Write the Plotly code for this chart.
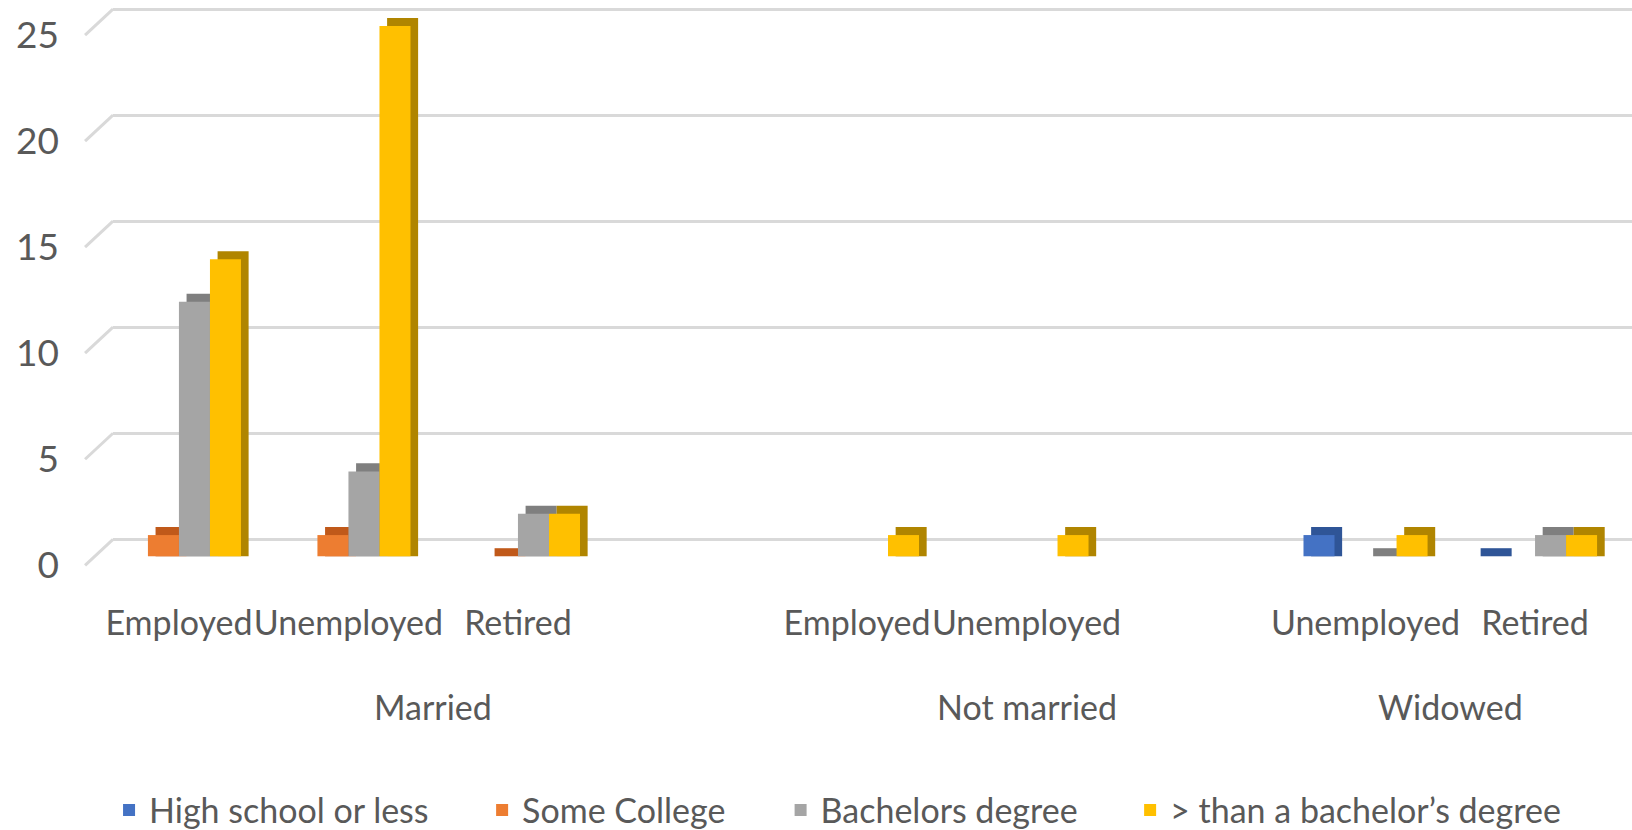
import plotly.graph_objects as go

# ---- data ----
groups = ["Married", "Not married", "Widowed"]
group_subcats = [
    ["Employed", "Unemployed", "Retired", ""],
    ["Employed", "Unemployed", ""],
    ["Unemployed", "Retired"],
]
series_names = ["High school or less", "Some College", "Bachelors degree",
                "> than a bachelor\u2019s degree"]
high_school = [None, None, None, None, None, None, None, 1, 0]
some_college = [1, 1, 0, None, None, None, None, None, None]
bachelors = [12, 4, 2, None, None, None, None, 0, 1]
above_bachelors = [14, 25, 2, None, 1, 1, None, 1, 1]
y_ticks = [0, 5, 10, 15, 20, 25]

front_colors = ["#4472C4", "#ED7D31", "#A5A5A5", "#FFC000"]
depth_colors = ["#2F5597", "#C0591A", "#7F7F7F", "#B08500"]

series_values = [high_school, some_college, bachelors, above_bachelors]

# flatten categories to slot positions
sub_labels = [s for subs in group_subcats for s in subs]
slots = list(range(len(sub_labels)))
group_centers = []
start = 0
for subs in group_subcats:
    group_centers.append(start + (len(subs) - 1) / 2)
    start += len(subs)

FONT = "Lato, Liberation Sans, sans-serif"
TXT = "#595959"
GRID = "#D9D9D9"
FS = 34

# geometry (3-D look emulation)
bar_w = 0.183
dx = 0.045     # depth shift in category units
dy = 0.38      # depth shift in value units
y_lo, y_hi = -0.6, 25.99
back_shift = 0.80    # back wall gridlines sit higher than the front plane
label_shift = 0.425  # tick labels sit slightly lower than the front plane

legend_ids = ["legend", "legend2", "legend3", "legend4"]
legend_x = [-0.0026, 0.2430, 0.4395, 0.6696]

fig = go.Figure()
# depth (side/top faces) first
for i, vals in enumerate(series_values):
    off = -2 * bar_w + i * bar_w
    fig.add_trace(go.Bar(
        x=slots, y=[None if v is None else v + dy for v in vals], base=0,
        width=bar_w, offset=off + dx,
        marker=dict(color=depth_colors[i], line=dict(width=0)),
        showlegend=False, hoverinfo="skip",
    ))
# front faces
for i, vals in enumerate(series_values):
    off = -2 * bar_w + i * bar_w
    fig.add_trace(go.Bar(
        x=slots, y=vals, name=series_names[i],
        width=bar_w, offset=off, legend=legend_ids[i],
        marker=dict(color=front_colors[i], line=dict(width=0)),
    ))

# invisible helpers so the overlay axes are drawn
fig.add_trace(go.Scatter(x=[slots[0]], y=[0], yaxis="y2", mode="markers",
                         marker=dict(opacity=0), showlegend=False, hoverinfo="skip"))
fig.add_trace(go.Scatter(x=[slots[0]], y=[0], yaxis="y3", mode="markers",
                         marker=dict(opacity=0), showlegend=False, hoverinfo="skip"))

for g, c in zip(groups, group_centers):
    fig.add_annotation(x=c, xref="x", y=-0.2436, yref="paper", text=g,
                       showarrow=False, yanchor="middle",
                       font=dict(family=FONT, size=FS, color=TXT))

# diagonal wall edges at the left of each gridline
for v in y_ticks:
    fig.add_shape(type="line", xref="paper", yref="y2",
                  x0=-0.0184, y0=v - 1.226, x1=0, y1=v,
                  line=dict(color=GRID, width=3), layer="below")

legend_common = dict(
    orientation="h", xanchor="left", y=-0.428, yanchor="middle",
    font=dict(family=FONT, size=FS, color=TXT),
    itemwidth=30, bgcolor="rgba(0,0,0,0)",
)

fig.update_layout(
    width=1632, height=830,
    barmode="overlay",
    paper_bgcolor="white", plot_bgcolor="white",
    margin=dict(l=113, r=0, t=5, b=261, autoexpand=False),
    font=dict(family=FONT, size=FS, color=TXT),
    xaxis=dict(
        range=[-0.389, 8.572],
        tickmode="array", tickvals=slots, ticktext=sub_labels,
        tickangle=0,
        showgrid=False, zeroline=False, showline=False, ticks="",
        ticklabelstandoff=31,
        tickfont=dict(family=FONT, size=FS, color=TXT),
    ),
    yaxis=dict(
        range=[y_lo, y_hi], showgrid=False, showticklabels=False,
        zeroline=False, showline=False, ticks="",
    ),
    yaxis2=dict(
        range=[y_lo - back_shift, y_hi - back_shift], overlaying="y",
        tickvals=y_ticks, showticklabels=False,
        showgrid=True, gridcolor=GRID, gridwidth=3,
        zeroline=False, showline=False, ticks="",
    ),
    yaxis3=dict(
        range=[y_lo + label_shift, y_hi + label_shift], overlaying="y",
        tickvals=y_ticks, showgrid=False,
        zeroline=False, showline=False, ticks="",
        ticklabelstandoff=53,
        tickfont=dict(family=FONT, size=37, color=TXT),
    ),
)
for lid, lx in zip(legend_ids, legend_x):
    fig.update_layout({lid: dict(legend_common, x=lx)})

fig.write_html("out.html", config={"displayModeBar": False},
               post_script="document.body.style.margin='0';")
